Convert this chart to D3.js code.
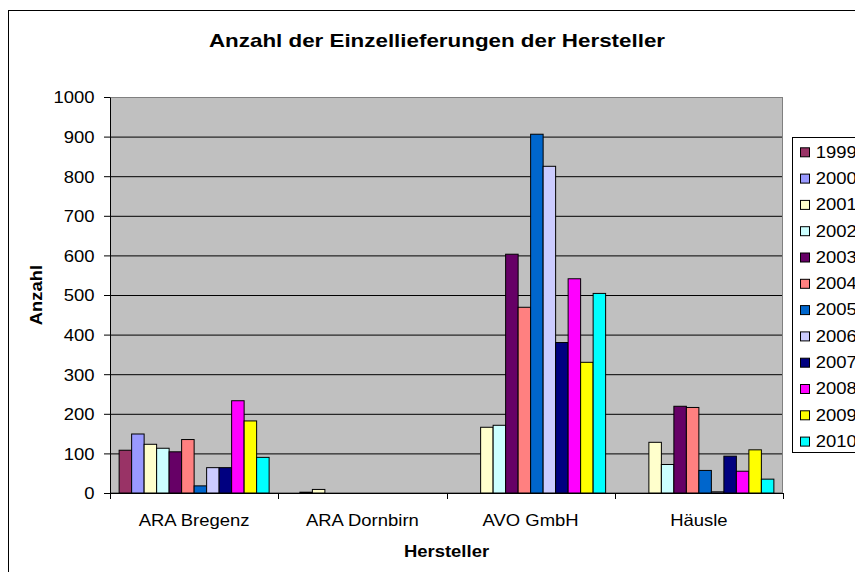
<!DOCTYPE html>
<html>
<head>
<meta charset="utf-8">
<script src="https://cdn.jsdelivr.net/npm/d3@7"></script>
<style>
  body { margin: 0; background: #fff; }
  text { font-family: "Liberation Sans", Arial, sans-serif; fill: #000; }
</style>
</head>
<body>
<div id="app"></div>
<script>
const categories = ['ARA Bregenz', 'ARA Dornbirn', 'AVO GmbH', 'Häusle'];
const years = ['1999', '2000', '2001', '2002', '2003', '2004', '2005', '2006', '2007', '2008', '2009', '2010'];

// Werte je Hersteller, Reihenfolge wie years
const araBregenz = [108, 149, 123, 113, 104, 135, 18, 64, 64, 233, 182, 90];
const araDornbirn = [0, 2, 9, 0, 0, 0, 0, 0, 0, 0, 0, 0];
const avoGmbh = [0, 0, 166, 171, 603, 469, 906, 825, 380, 541, 330, 504];
const haeusle = [0, 0, 128, 72, 219, 216, 57, 3, 93, 55, 109, 35];

const yTicks = [0, 100, 200, 300, 400, 500, 600, 700, 800, 900, 1000];

const palette = ['#993366', '#9999FF', '#FFFFCC', '#CCFFFF', '#660066', '#FF8080',
  '#0066CC', '#CCCCFF', '#000080', '#FF00FF', '#FFFF00', '#00FFFF'];

function render() {
  const width = 855;
  const height = 572;
  const plot = { left: 110, right: 783, top: 97, bottom: 493 };
  const fs = 16.5;
  const sx = 1.12; // Excel-Schrift ist etwas breit gezogen

  const values = [araBregenz, araDornbirn, avoGmbh, haeusle];
  const rows = [];
  categories.forEach((c, ci) => {
    years.forEach((y, yi) => {
      rows.push({ cat: c, year: y, value: values[ci][yi] });
    });
  });

  const x0 = d3.scaleBand(categories, [plot.left, plot.right]);
  const x1 = d3.scaleBand(years, [0, x0.bandwidth()]).paddingInner(0).paddingOuter(0.73);
  const yScale = d3.scaleLinear([0, 1000], [plot.bottom, plot.top]);
  const color = d3.scaleOrdinal(years, palette);

  const svg = d3.select('#app').append('svg').attr('width', width).attr('height', height);

  // text helper, horizontal gestreckt
  function label(g, x, y, str, opts = {}) {
    const s = opts.scale || sx;
    const rot = opts.rotate ? ` rotate(${opts.rotate})` : '';
    return g.append('text')
      .attr('transform', `translate(${x},${y})${rot} scale(${s},1)`)
      .attr('text-anchor', opts.anchor || 'middle')
      .attr('font-size', opts.size || fs)
      .attr('font-weight', opts.bold ? 'bold' : 'normal')
      .text(str);
  }

  // Diagrammrahmen
  svg.append('rect')
    .attr('x', 8.5).attr('y', 10.5)
    .attr('width', 900).attr('height', 600)
    .attr('fill', '#fff').attr('stroke', '#000');

  // Zeichnungsfläche
  svg.append('rect')
    .attr('x', plot.left).attr('y', plot.top)
    .attr('width', plot.right - plot.left).attr('height', plot.bottom - plot.top)
    .attr('fill', '#C0C0C0');

  // Gitternetz
  svg.append('g')
    .attr('transform', `translate(${plot.left},0)`)
    .call(d3.axisLeft(yScale).tickValues(yTicks.slice(1, -1)).tickSize(-(plot.right - plot.left)).tickFormat(''))
    .call(g => g.select('.domain').remove())
    .selectAll('line').attr('stroke', '#000');

  svg.append('rect')
    .attr('x', plot.left + 0.5).attr('y', plot.top + 0.5)
    .attr('width', plot.right - plot.left - 1).attr('height', plot.bottom - plot.top - 1)
    .attr('fill', 'none').attr('stroke', '#808080');

  // Balken
  svg.append('g')
    .selectAll('rect')
    .data(rows.filter(d => d.value > 0))
    .join('rect')
    .attr('x', d => x0(d.cat) + x1(d.year))
    .attr('y', d => yScale(d.value))
    .attr('width', x1.bandwidth())
    .attr('height', d => yScale(0) - yScale(d.value))
    .attr('fill', d => color(d.year))
    .attr('stroke', '#000')
    .attr('stroke-width', 1);

  // y-Achse
  const yAxis = svg.append('g')
    .attr('transform', `translate(${plot.left},0)`)
    .call(d3.axisLeft(yScale).tickValues(yTicks).tickFormat(d3.format('d')).tickSize(6).tickSizeOuter(0));
  yAxis.select('.domain').attr('stroke', '#000');
  yAxis.selectAll('line').attr('stroke', '#000');
  yAxis.selectAll('text')
    .attr('x', null).attr('dy', '0.36em')
    .attr('font-size', fs)
    .attr('fill', '#000')
    .attr('transform', `translate(-15.5,0) scale(${sx},1)`);
  yAxis.attr('font-family', null);

  // x-Achse
  const xg = svg.append('g');
  xg.append('line')
    .attr('x1', plot.left).attr('x2', plot.right)
    .attr('y1', plot.bottom + 0.5).attr('y2', plot.bottom + 0.5)
    .attr('stroke', '#000');
  xg.selectAll('line.tick')
    .data(categories.map(c => x0(c)).concat([plot.right]))
    .join('line')
    .attr('class', 'tick')
    .attr('x1', d => Math.round(d) + 0.5).attr('x2', d => Math.round(d) + 0.5)
    .attr('y1', plot.bottom).attr('y2', plot.bottom + 6)
    .attr('stroke', '#000');
  categories.forEach(c => {
    label(xg, x0(c) + x0.bandwidth() / 2, 526, c);
  });

  // Titel
  label(svg, 437, 47, 'Anzahl der Einzellieferungen der Hersteller', { bold: true, size: 18.5, scale: 1.21 });
  label(svg, (plot.left + plot.right) / 2, 557, 'Hersteller', { bold: true });
  label(svg, 41.5, (plot.top + plot.bottom) / 2, 'Anzahl', { bold: true, rotate: -90 });

  // Legende (rechts abgeschnitten wie im Original)
  const legend = svg.append('g');
  legend.append('rect')
    .attr('x', 792.5).attr('y', 137.5)
    .attr('width', 100).attr('height', 315)
    .attr('fill', '#fff').attr('stroke', '#000');
  const rowStep = 26.3;
  years.forEach((y, i) => {
    const cy = 152.3 + i * rowStep;
    legend.append('rect')
      .attr('x', 800.5).attr('y', cy - 4.5)
      .attr('width', 9).attr('height', 9)
      .attr('fill', color(y)).attr('stroke', '#000');
    label(legend, 815.7, cy + 5.3, y, { anchor: 'start' });
  });
}

render();
</script>
</body>
</html>
